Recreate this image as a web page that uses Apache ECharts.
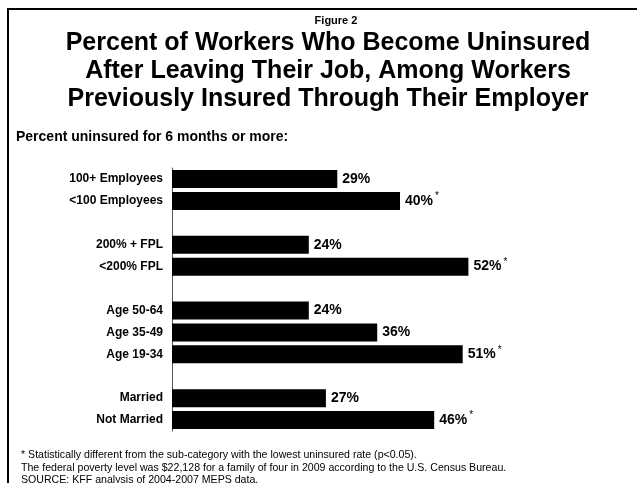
<!DOCTYPE html>
<html>
<head>
<meta charset="utf-8">
<script src="https://cdn.jsdelivr.net/npm/echarts@6/dist/echarts.min.js"></script>
<style>
  html, body { margin: 0; padding: 0; background: #fff; }
  #chart { width: 637px; height: 483px; }
</style>
</head>
<body>
<div id="chart"></div>
<script>
// categories top to bottom, blank entries are the gaps between groups
const categories = ["100+ Employees", "<100 Employees", " ", "200% + FPL", "<200% FPL", "  ",
  "Age 50-64", "Age 35-49", "Age 19-34", "   ", "Married", "Not Married"];
const uninsured = [29, 40, null, 24, 52, null, 24, 36, 51, null, 27, 46];
// starred = statistically different from lowest rate in group
const starred = [false, true, false, false, true, false, false, false, true, false, false, true];
const footnotes = [
  "* Statistically different from the sub-category with the lowest uninsured rate (p<0.05).",
  "The federal poverty level was $22,128 for a family of four in 2009 according to the U.S. Census Bureau.",
  "SOURCE: KFF analysis of 2004-2007 MEPS data."
];

const FONT = "Liberation Sans, Arial, sans-serif";
const chart = echarts.init(document.getElementById("chart"), null, { renderer: "canvas" });

const option = {
  animation: false,
  backgroundColor: "#fff",
  textStyle: { fontFamily: FONT },
  title: [
    {
      text: "Figure 2",
      left: 336, top: 14, padding: 0, textAlign: "center",
      textStyle: { fontSize: 11, fontWeight: "bold", color: "#000", lineHeight: 13, fontFamily: FONT }
    },
    {
      text: "Percent of Workers Who Become Uninsured\nAfter Leaving Their Job, Among Workers\nPreviously Insured Through Their Employer",
      left: 328, top: 29, padding: 0, textAlign: "center",
      textStyle: { fontSize: 25, fontWeight: "bold", color: "#000", lineHeight: 28, fontFamily: FONT }
    },
    {
      text: "Percent uninsured for 6 months or more:",
      left: 16, top: 129, padding: 0,
      textStyle: { fontSize: 14, fontWeight: "bold", color: "#000", lineHeight: 16, fontFamily: FONT }
    }
  ],
  grid: { left: 172, top: 168, width: 456, height: 263, containLabel: false },
  xAxis: { type: "value", min: 0, max: 80, show: false },
  yAxis: {
    type: "category",
    inverse: true,
    data: categories,
    axisLine: { show: true, lineStyle: { color: "#555", width: 1 } },
    axisTick: { show: false },
    axisLabel: { color: "#000", fontSize: 12, fontWeight: "bold", margin: 9, fontFamily: FONT }
  },
  series: [
    {
      type: "bar",
      data: uninsured,
      barWidth: 18,
      itemStyle: { color: "#000" },
      label: {
        show: true,
        position: "right",
        distance: 5,
        formatter(p) {
          return starred[p.dataIndex] ? `{v|${p.value}%}{s|*}` : `{v|${p.value}%}`;
        },
        rich: {
          v: { fontSize: 14, fontWeight: "bold", color: "#000", fontFamily: FONT },
          s: { fontSize: 10, color: "#000", padding: [0, 0, 9, 2], fontFamily: FONT }
        }
      }
    }
  ],
  graphic: [
    {
      type: "rect",
      shape: { x: 8, y: 9, width: 660, height: 520 },
      style: { fill: "none", stroke: "#000", lineWidth: 2 },
      silent: true
    },
    ...footnotes.map((t, i) => ({
      type: "text",
      left: 21, top: 450 + i * 12.5,
      style: { text: t, fontSize: 10.6, fill: "#000", fontFamily: FONT }
    }))
  ]
};

chart.setOption(option);
</script>
</body>
</html>
